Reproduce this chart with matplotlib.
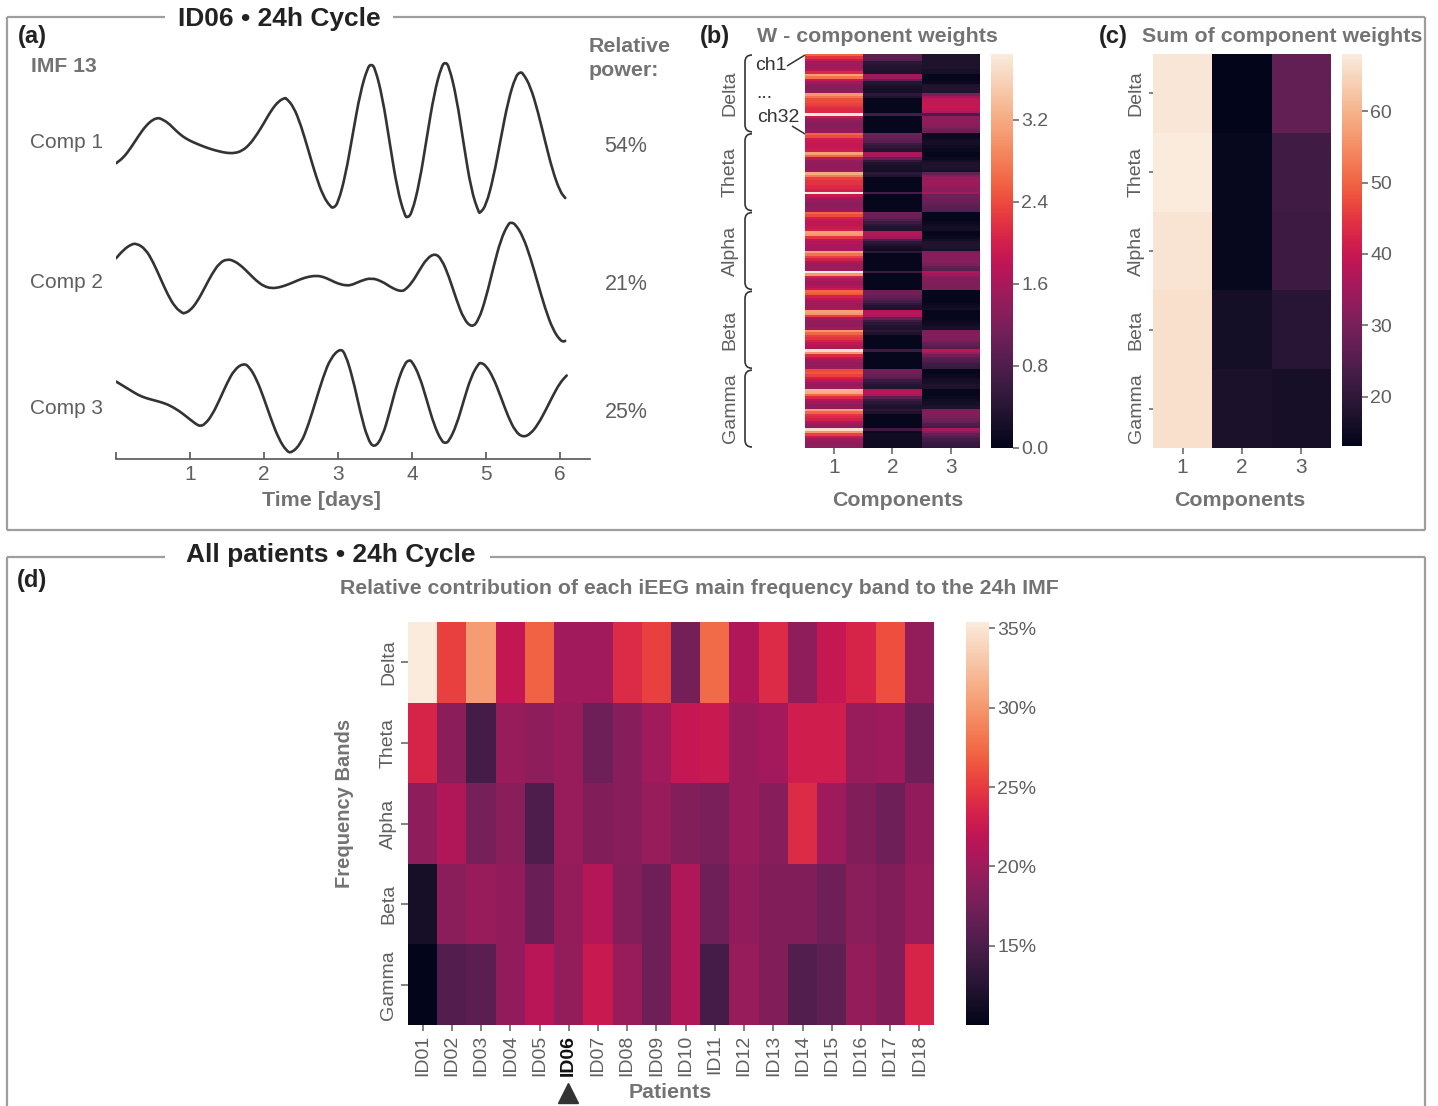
import numpy as np
import matplotlib
matplotlib.use("Agg")
import matplotlib.pyplot as plt
import seaborn as sns
from matplotlib.path import Path
from matplotlib.patches import PathPatch

plt.rcParams['font.family'] = ['Liberation Sans', 'DejaVu Sans']

# ---------------- data ----------------
# (a) NMF component time courses, ID06 IMF 13 (time in days, amplitude a.u.)
comp1 = [(0.0, -23.3), (0.1, -17.7), (0.2, -7.9), (0.3, 3.6), (0.4, 14.0), (0.5, 20.6), (0.57, 22.0),
         (0.6, 21.5), (0.7, 17.5), (0.8, 10.0), (0.9, 3.5), (1.0, -0.8), (1.1, -4.0), (1.2, -7.0),
         (1.3, -9.5), (1.4, -11.5), (1.5, -13.0), (1.6, -13.2), (1.7, -11.0), (1.8, -5.0), (1.9, 5.0),
         (2.0, 17.0), (2.1, 30.0), (2.2, 39.0), (2.28, 42.0), (2.3, 41.8), (2.4, 33.3), (2.5, 14.5),
         (2.6, -10.4), (2.7, -35.8), (2.8, -56.2), (2.9, -67.0), (2.94, -68.0), (3.0, -63.1),
         (3.1, -35.7), (3.2, 6.2), (3.3, 47.4), (3.4, 72.6), (3.45, 76.0), (3.5, 72.1), (3.6, 43.0),
         (3.7, -3.5), (3.8, -49.0), (3.9, -75.5), (3.94, -78.0), (4.0, -72.7), (4.1, -43.0), (4.2, 2.5),
         (4.3, 47.0), (4.4, 74.3), (4.45, 78.0), (4.5, 73.8), (4.6, 43.1), (4.7, -5.0), (4.8, -50.0),
         (4.9, -72.4), (4.92, -73.0), (5.0, -65.5), (5.1, -37.7), (5.2, 1.6), (5.3, 39.6), (5.4, 63.8),
         (5.46, 68.0), (5.5, 66.8), (5.6, 53.6), (5.7, 28.8), (5.8, -1.7), (5.9, -30.8), (6.0, -51.5),
         (6.07, -58.0)]
comp2 = [(0.0, 21.7), (0.1, 30.0), (0.2, 35.5), (0.28, 36.7), (0.4, 30.8), (0.5, 18.2), (0.6, 1.7),
         (0.7, -14.8), (0.8, -27.4), (0.9, -33.2), (0.92, -33.3), (1.0, -30.8), (1.1, -21.4), (1.2, -7.6),
         (1.3, 6.5), (1.4, 17.1), (1.5, 21.0), (1.6, 19.0), (1.7, 13.7), (1.8, 6.4), (1.9, -1.0),
         (2.0, -6.3), (2.1, -8.3), (2.2, -7.5), (2.3, -5.2), (2.4, -2.2), (2.5, 1.0), (2.6, 3.3),
         (2.71, 4.3), (2.8, 3.2), (2.9, -0.1), (3.0, -3.7), (3.12, -5.7), (3.2, -4.6), (3.3, -1.1),
         (3.45, 2.3), (3.6, -1.6), (3.7, -6.6), (3.8, -10.3), (3.86, -11.0), (3.9, -10.3), (4.0, -2.7),
         (4.1, 9.8), (4.2, 21.4), (4.31, 26.7), (4.4, 20.9), (4.5, 3.2), (4.6, -19.7), (4.7, -39.2),
         (4.81, -47.7), (4.9, -40.3), (5.0, -17.7), (5.1, 12.8), (5.2, 40.5), (5.3, 56.2), (5.34, 57.7),
         (5.4, 55.6), (5.5, 43.4), (5.6, 22.4), (5.7, -3.3), (5.8, -28.7), (5.9, -49.0), (6.0, -60.3),
         (6.05, -61.7), (6.07, -60.8)]
comp3 = [(0.0, 18.5), (0.1, 14.0), (0.2, 9.5), (0.3, 5.0), (0.4, 2.0), (0.5, 0.0), (0.6, -2.0),
         (0.7, -4.5), (0.8, -8.5), (0.9, -13.5), (1.0, -19.5), (1.1, -25.0), (1.14, -26.0), (1.2, -24.4),
         (1.3, -14.9), (1.4, 0.3), (1.5, 16.9), (1.6, 30.4), (1.72, 36.7), (1.8, 33.4), (1.9, 20.7),
         (2.0, 1.4), (2.1, -20.2), (2.2, -38.9), (2.3, -50.7), (2.37, -53.3), (2.5, -43.5), (2.6, -24.8),
         (2.7, -0.8), (2.8, 23.2), (2.9, 41.9), (3.03, 51.7), (3.1, 46.1), (3.2, 21.6), (3.3, -11.8),
         (3.4, -39.1), (3.49, -48.3), (3.6, -36.9), (3.7, -11.5), (3.8, 17.0), (3.9, 36.5), (3.96, 40.0),
         (4.0, 38.7), (4.1, 24.3), (4.2, -0.3), (4.3, -25.5), (4.4, -41.2), (4.45, -43.3), (4.5, -41.2),
         (4.6, -25.4), (4.7, -0.3), (4.8, 23.6), (4.9, 36.5), (4.93, 37.3), (5.0, 34.5), (5.1, 22.1),
         (5.2, 3.1), (5.3, -16.9), (5.4, -31.8), (5.5, -37.3), (5.6, -34.0), (5.7, -24.6), (5.8, -11.1),
         (5.9, 3.8), (6.0, 17.3), (6.09, 24.5)]
comp_names = ['Comp 1', 'Comp 2', 'Comp 3']
rel_power = ['54%', '21%', '25%']
day_ticks = [0, 1, 2, 3, 4, 5, 6]

bands = ['Delta', 'Theta', 'Alpha', 'Beta', 'Gamma']
components = ['1', '2', '3']

# (b) W matrix: 32 channels per band, one list per component
delta_w = [[2.6, 2.2, 1.9, 1.55, 1.5, 1.5, 1.7, 2.1, 3.1, 2.7, 1.9, 1.5, 1.35, 1.3, 1.3, 1.4,
            3.0, 2.7, 2.4, 2.4, 2.3, 2.2, 2.1, 2.1, 3.8, 1.9, 1.5, 1.4, 1.3, 1.3, 1.35, 1.4],
           [0.95, 0.9, 0.85, 0.45, 0.4, 0.35, 0.35, 0.3, 1.55, 1.5, 1.0, 0.4, 0.3, 0.25, 0.2, 0.2,
            0.45, 0.3, 0.05, 0.05, 0.05, 0.05, 0.05, 0.05, 0.7, 0.05, 0.05, 0.05, 0.05, 0.05, 0.05, 0.05],
           [0.3, 0.3, 0.3, 0.3, 0.3, 0.3, 0.25, 0.25, 0.05, 0.05, 0.05, 0.1, 0.3, 0.35, 0.35, 0.3,
            1.2, 1.5, 1.8, 1.85, 1.85, 1.85, 1.8, 1.7, 0.75, 1.4, 1.4, 1.4, 1.35, 1.3, 1.15, 1.05]]
theta_w = [[2.6, 2.4, 1.95, 1.9, 1.85, 1.85, 1.9, 1.95, 3.1, 2.6, 1.8, 1.45, 1.4, 1.4, 1.4, 1.5,
            3.2, 2.8, 2.3, 2.2, 2.2, 2.1, 2.1, 2.0, 3.8, 1.9, 1.6, 1.45, 1.35, 1.35, 1.4, 1.45],
           [1.1, 1.05, 1.0, 0.9, 0.6, 0.5, 0.4, 0.35, 1.6, 1.55, 1.0, 0.5, 0.3, 0.25, 0.25, 0.2,
            0.45, 0.35, 0.05, 0.05, 0.05, 0.05, 0.05, 0.05, 0.7, 0.05, 0.05, 0.05, 0.05, 0.05, 0.05, 0.05],
           [0.05, 0.1, 0.15, 0.2, 0.2, 0.15, 0.1, 0.1, 0.05, 0.05, 0.1, 0.2, 0.3, 0.35, 0.3, 0.25,
            1.0, 1.3, 1.45, 1.5, 1.5, 1.45, 1.4, 1.35, 1.6, 1.1, 1.1, 1.05, 1.0, 0.95, 0.9, 0.85]]
alpha_w = [[2.6, 2.4, 2.0, 1.9, 1.8, 1.8, 1.9, 2.0, 3.1, 3.0, 2.2, 1.8, 1.7, 1.6, 1.6, 1.6,
            3.1, 2.7, 2.3, 2.0, 1.7, 1.5, 1.5, 1.5, 3.8, 3.0, 2.0, 1.7, 1.5, 1.5, 1.7, 1.9],
           [1.1, 1.05, 1.0, 0.8, 0.6, 0.45, 0.35, 0.3, 1.7, 1.7, 1.5, 0.8, 0.45, 0.3, 0.2, 0.15,
            0.5, 0.05, 0.05, 0.05, 0.05, 0.05, 0.05, 0.05, 0.6, 0.05, 0.05, 0.05, 0.05, 0.05, 0.05, 0.05],
           [0.05, 0.05, 0.05, 0.05, 0.1, 0.15, 0.2, 0.2, 0.05, 0.05, 0.1, 0.2, 0.3, 0.35, 0.3, 0.25,
            1.2, 1.3, 1.3, 1.3, 1.3, 1.2, 1.0, 0.9, 1.7, 1.5, 1.3, 1.25, 1.25, 1.25, 1.2, 1.2]]
beta_w = [[2.6, 2.5, 2.0, 1.8, 1.6, 1.5, 1.5, 1.6, 3.1, 3.0, 2.3, 1.6, 1.4, 1.4, 1.4, 1.5,
           3.0, 2.6, 2.3, 2.2, 2.0, 1.8, 1.7, 1.6, 3.7, 3.0, 2.1, 1.8, 1.5, 1.4, 1.4, 1.5],
          [1.1, 1.1, 1.0, 0.9, 0.7, 0.5, 0.35, 0.3, 1.7, 1.75, 1.6, 1.0, 0.6, 0.45, 0.35, 0.3,
           0.45, 0.3, 0.05, 0.05, 0.05, 0.05, 0.05, 0.05, 0.6, 0.05, 0.05, 0.05, 0.05, 0.05, 0.05, 0.05],
          [0.05, 0.05, 0.05, 0.05, 0.05, 0.1, 0.15, 0.2, 0.05, 0.05, 0.05, 0.05, 0.1, 0.15, 0.2, 0.25,
           1.2, 1.25, 1.25, 1.25, 1.2, 1.0, 0.9, 0.8, 1.8, 1.5, 1.1, 0.9, 0.8, 0.7, 0.6, 0.55]]
gamma_w = [[2.4, 2.5, 2.3, 2.0, 1.8, 1.5, 1.4, 1.5, 3.3, 3.2, 2.6, 2.1, 1.7, 1.5, 1.4, 1.4,
            3.1, 2.6, 2.2, 2.1, 2.0, 1.7, 1.5, 1.4, 3.7, 3.0, 2.3, 1.9, 1.5, 1.4, 1.35, 1.4],
           [1.1, 1.1, 1.0, 0.9, 0.6, 0.5, 0.4, 0.35, 1.7, 1.75, 1.6, 0.9, 0.6, 0.45, 0.35, 0.3,
            0.45, 0.3, 0.05, 0.05, 0.05, 0.05, 0.05, 0.05, 0.6, 0.1, 0.15, 0.15, 0.15, 0.15, 0.15, 0.15],
           [0.05, 0.05, 0.1, 0.15, 0.2, 0.25, 0.3, 0.3, 0.05, 0.05, 0.05, 0.1, 0.15, 0.2, 0.25, 0.3,
            1.2, 1.25, 1.25, 1.2, 1.1, 1.0, 0.8, 0.7, 1.6, 1.3, 1.0, 0.8, 0.7, 0.6, 0.55, 0.5]]
w_ticks = [0.0, 0.8, 1.6, 2.4, 3.2]

# (c) sum of component weights per band
sum_delta = [67.3, 13.1, 27.0]
sum_theta = [68.0, 14.0, 22.5]
sum_alpha = [66.8, 14.0, 22.0]
sum_beta = [66.3, 16.0, 19.0]
sum_gamma = [66.3, 17.0, 16.5]
sum_ticks = [20, 30, 40, 50, 60]

# (d) relative contribution (%) per band and patient
patients = ['ID%02d' % i for i in range(1, 19)]
delta_pct = [35.4, 25.2, 30.3, 22.2, 27.0, 20.2, 20.2, 24.0, 25.2, 17.6, 27.5, 21.0, 24.0, 19.1, 22.4, 23.5, 26.0, 19.4]
theta_pct = [23.5, 19.0, 14.6, 19.7, 19.1, 19.7, 17.2, 18.7, 20.2, 22.3, 22.6, 19.8, 20.4, 23.0, 23.0, 19.7, 20.1, 17.2]
alpha_pct = [19.1, 21.0, 17.7, 18.8, 15.2, 19.7, 18.3, 18.7, 19.6, 18.4, 17.9, 19.8, 18.7, 24.0, 20.1, 18.3, 17.2, 19.3]
beta_pct = [11.5, 18.8, 19.7, 19.3, 16.9, 19.5, 21.3, 18.5, 17.2, 21.1, 17.2, 19.3, 18.3, 18.3, 17.2, 18.8, 18.3, 19.7]
gamma_pct = [10.0, 15.5, 16.0, 19.3, 21.6, 19.4, 22.6, 19.7, 17.2, 21.1, 14.6, 19.6, 18.3, 15.4, 16.2, 19.5, 18.3, 23.5]
pct_ticks = [15, 20, 25, 30, 35]

# ---------------- layout helpers ----------------
W, H = 1438, 1106
GRAY = '#737373'
TICK = '#5f5f5f'
DARK = '#222222'
FRAME = '#9e9e9e'
LBL = 15.4  # bold axis-label size
rocket = sns.color_palette('rocket', as_cmap=True)


def box(x0, y0, x1, y1):
    # pixel box (top-left origin) -> figure fraction rect
    return [x0 / W, 1 - y1 / H, (x1 - x0) / W, (y1 - y0) / H]


def style_ticks(ax, size=15):
    ax.tick_params(axis='both', colors=TICK, labelsize=size, length=4, width=1.1, pad=3)
    for lab in ax.get_xticklabels() + ax.get_yticklabels():
        lab.set_color(TICK)


def smooth_line(t, v):
    # quadratic segments through the midpoints of the read samples
    pts = np.column_stack([t, v])
    mids = (pts[:-1] + pts[1:]) / 2
    verts = [pts[0], mids[0]]
    codes = [Path.MOVETO, Path.LINETO]
    for i in range(1, len(pts) - 1):
        verts += [pts[i], mids[i]]
        codes += [Path.CURVE3, Path.CURVE3]
    verts.append(pts[-1])
    codes.append(Path.LINETO)
    return Path(verts, codes)


fig = plt.figure(figsize=(W / 100, H / 100), dpi=100)

# ---------------- (a) time courses ----------------
ax_a = fig.add_axes(box(116, 55, 590, 459))
ax_a.patch.set_visible(False)
for curve, off in zip([comp1, comp2, comp3], [-140, -280, -400]):
    t, v = np.array(curve).T
    ax_a.add_patch(PathPatch(smooth_line(t, v + off), fill=False, edgecolor='#333333',
                             lw=1.9, capstyle='round', joinstyle='round'))
ax_a.set_xlim(0, 6.405)
ax_a.set_ylim(-459, -55)
ax_a.set_xticks(day_ticks)
ax_a.set_xticklabels([''] + [str(d) for d in day_ticks[1:]])
ax_a.set_yticks([])
for s in ['left', 'right', 'top']:
    ax_a.spines[s].set_visible(False)
ax_a.spines['bottom'].set_color('#555555')
ax_a.spines['bottom'].set_linewidth(1.2)
ax_a.tick_params(axis='x', direction='in', colors='#555555', labelcolor=TICK, labelsize=15,
                 length=5, width=1.2, pad=4)

# ---------------- (b) W matrix ----------------
w_all = np.vstack([np.array(b).T for b in [delta_w, theta_w, alpha_w, beta_w, gamma_w]])
ax_b = fig.add_axes(box(805, 54, 980, 448))
cax_b = fig.add_axes(box(991, 54, 1013, 448))
sns.heatmap(w_all, ax=ax_b, cbar_ax=cax_b, cmap=rocket, vmin=0, vmax=3.84,
            xticklabels=components, yticklabels=False)
ax_b.tick_params(axis='x', rotation=0)
style_ticks(ax_b)
cb = ax_b.collections[0].colorbar
cb.set_ticks(w_ticks)
cb.set_ticklabels(['%.1f' % v for v in w_ticks])
cb.ax.tick_params(colors=TICK, labelsize=14, length=4, width=1.1, pad=2)

# ---------------- (c) sums ----------------
ax_c = fig.add_axes(box(1153, 54, 1331, 448))
cax_c = fig.add_axes(box(1342, 54, 1362, 446))
sums = np.array([sum_delta, sum_theta, sum_alpha, sum_beta, sum_gamma])
sns.heatmap(sums, ax=ax_c, cbar_ax=cax_c, cmap=rocket, vmin=13.1, vmax=68.0,
            xticklabels=components, yticklabels=bands)
ax_c.set_yticklabels(bands, rotation=90, va='center')
ax_c.tick_params(axis='x', rotation=0)
style_ticks(ax_c)
ax_c.tick_params(axis='y', labelsize=14, length=3)
cb = ax_c.collections[0].colorbar
cb.set_ticks(sum_ticks)
cb.ax.tick_params(colors=TICK, labelsize=14, length=4, width=1.1, pad=2)

# ---------------- (d) all patients ----------------
ax_d = fig.add_axes(box(408, 622, 934, 1025))
cax_d = fig.add_axes(box(966, 622, 989, 1025))
pct = np.array([delta_pct, theta_pct, alpha_pct, beta_pct, gamma_pct])
sns.heatmap(pct, ax=ax_d, cbar_ax=cax_d, cmap=rocket, vmin=10.0, vmax=35.4,
            xticklabels=patients, yticklabels=bands)
ax_d.set_yticklabels(bands, rotation=90, va='center')
ax_d.set_xticklabels(patients, rotation=90)
style_ticks(ax_d, 14)
ax_d.tick_params(axis='y', length=5)
for lab in ax_d.get_xticklabels():
    if lab.get_text() == 'ID06':
        lab.set_fontweight('bold')
        lab.set_color('#111111')
cb = ax_d.collections[0].colorbar
cb.set_ticks(pct_ticks)
cb.set_ticklabels(['%d%%' % v for v in pct_ticks])
cb.ax.tick_params(colors=TICK, labelsize=14, length=4, width=1.1, pad=2)

# ---------------- overlay: frames, titles, labels ----------------
ov = fig.add_axes([0, 0, 1, 1])
ov.set_xlim(0, W)
ov.set_ylim(H, 0)
ov.axis('off')


def txt(x, y, s, **kw):
    kw.setdefault('ha', 'center')
    kw.setdefault('va', 'center')
    ov.text(x, y, s, **kw)


def seg(x0, y0, x1, y1, **kw):
    ov.plot([x0, x1], [y0, y1], solid_capstyle='butt', **kw)


fr = dict(color=FRAME, lw=1.6)
seg(7, 17, 165, 17, **fr)
seg(393, 17, 1425, 17, **fr)
seg(7, 17, 7, 530, **fr)
seg(1425, 17, 1425, 530, **fr)
seg(7, 530, 1425, 530, **fr)
seg(7, 557, 165, 557, **fr)
seg(490, 557, 1425, 557, **fr)
seg(7, 557, 7, 1106, **fr)
seg(1425, 557, 1425, 1106, **fr)

txt(279, 19, 'ID06 \u2022 24h Cycle', fontsize=19, fontweight='bold', color=DARK)
txt(331, 555, 'All patients \u2022 24h Cycle', fontsize=19, fontweight='bold', color=DARK)

# panel (a) labels
txt(32, 37, '(a)', fontsize=17, fontweight='bold', color=DARK)
txt(64, 67, 'IMF 13', fontsize=15.2, fontweight='bold', color=GRAY)
txt(589, 47, 'Relative', fontsize=LBL, fontweight='bold', color=GRAY, ha='left')
txt(589, 71, 'power:', fontsize=LBL, fontweight='bold', color=GRAY, ha='left')
for name, pw, y in zip(comp_names, rel_power, [143, 282, 409]):
    txt(66, y, name, fontsize=15, color=TICK)
    txt(626, y + 3, pw, fontsize=15.5, color=TICK)
txt(322, 500, 'Time [days]', fontsize=LBL, fontweight='bold', color=GRAY)

# panel (b) labels, braces and channel annotations
txt(715, 36, '(b)', fontsize=17, fontweight='bold', color=DARK)
txt(757, 37, 'W - component weights', fontsize=LBL, fontweight='bold', color=GRAY, ha='left')
edges = np.linspace(54, 448, len(bands) + 1)
for name, y0, y1 in zip(bands, edges[:-1], edges[1:]):
    txt(730, (y0 + y1) / 2, name, fontsize=14, color=TICK, rotation=90)
    verts = [(752, y0 + 1), (745, y0 + 1), (745, y0 + 8), (745, y1 - 8), (745, y1 - 1), (752, y1 - 1)]
    codes = [Path.MOVETO, Path.CURVE3, Path.CURVE3, Path.LINETO, Path.CURVE3, Path.CURVE3]
    ov.add_patch(PathPatch(Path(verts, codes), fill=False, edgecolor='#333333', lw=1.2))
txt(771, 66, 'ch1', fontsize=14, color='#333333')
txt(764, 93, '...', fontsize=14, color='#333333')
txt(778, 117, 'ch32', fontsize=14, color='#333333')
seg(787, 66, 805, 55, color='#333333', lw=1.1)
seg(792, 126, 805, 134, color='#333333', lw=1.1)
txt(898, 500, 'Components', fontsize=LBL, fontweight='bold', color=GRAY)

# panel (c) labels
txt(1113, 36, '(c)', fontsize=17, fontweight='bold', color=DARK)
txt(1142, 37, 'Sum of component weights', fontsize=LBL, fontweight='bold', color=GRAY, ha='left')
txt(1240, 500, 'Components', fontsize=LBL, fontweight='bold', color=GRAY)

# panel (d) labels
txt(32, 581, '(d)', fontsize=17, fontweight='bold', color=DARK)
txt(699, 589, 'Relative contribution of each iEEG main frequency band to the 24h IMF',
    fontsize=15.3, fontweight='bold', color=GRAY)
txt(345, 803, 'Frequency Bands', fontsize=14.5, fontweight='bold', color=GRAY, rotation=90)
txt(670, 1093, 'Patients', fontsize=LBL, fontweight='bold', color=GRAY)
ov.plot([568], [1093], marker='^', markersize=15, color='#333333', linestyle='none')

fig.savefig('out.png', dpi=100)
